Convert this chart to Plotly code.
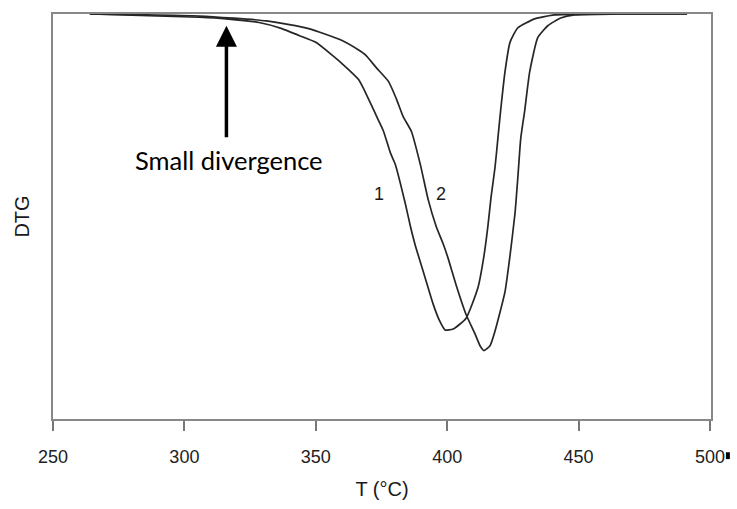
import plotly.graph_objects as go

# Curve 1 (temperature in °C, DTG in arbitrary units, 0 = baseline)
t1 = [264.0, 305.7, 315.9, 328.4, 337.1, 343.6, 350.0, 356.1, 360.6, 366.3, 370.1,
      373.9, 375.8, 378.4, 380.3, 384.1, 386.0, 387.9, 390.2, 394.7, 397.0, 399.2,
      402.3, 407.2, 411.7, 414.0, 415.5, 416.7, 418.2, 419.3, 420.1, 422.0, 423.9,
      426.9, 433.3, 440.9, 457.2, 491.3]
d1 = [0.0, -0.8, -1.2, -2.1, -3.6, -5.3, -7.0, -10.1, -12.6, -16.2, -21.0,
      -26.3, -29.0, -34.3, -37.2, -46.9, -52.4, -57.2, -62.1, -71.7, -75.6, -78.0,
      -77.8, -75.1, -67.6, -59.7, -52.4, -45.2, -37.9, -30.7, -25.4, -14.3, -7.0,
      -3.4, -1.2, -0.2, 0.0, 0.0]

# Curve 2
t2 = [264.0, 305.7, 331.1, 347.3, 359.8, 366.3, 368.9, 373.1, 377.7, 380.7, 383.3,
      386.4, 389.8, 392.8, 395.8, 398.5, 400.4, 403.4, 407.2, 410.6, 412.5, 414.0,
      416.3, 418.2, 422.0, 423.9, 425.8, 426.9, 428.0, 429.5, 431.4, 434.5, 438.3,
      443.2, 448.5, 464.8, 491.3]
d2 = [0.0, -0.5, -1.7, -3.6, -6.5, -8.9, -10.1, -13.3, -16.7, -21.0, -25.4,
      -29.0, -37.2, -45.9, -52.4, -56.8, -60.4, -66.9, -74.2, -79.0, -81.9, -83.1,
      -81.9, -78.3, -68.6, -59.7, -49.3, -40.3, -30.7, -23.9, -14.3, -5.8, -2.9,
      -1.0, -0.2, 0.0, 0.0]

x_ticks = [250, 300, 350, 400, 450, 500]
curve_labels = ["1", "2"]
label_pos = [(374.0, -44.5), (397.8, -44.5)]
arrow_tip = (316.0, -2.9)
annotation_text = "Small divergence"

FONT = "Liberation Sans"

fig = go.Figure()
for t, d in [(t1, d1), (t2, d2)]:
    fig.add_trace(go.Scatter(x=t, y=d, mode="lines",
                             line=dict(color="#262626", width=1.7, shape="spline", smoothing=0.5),
                             showlegend=False, hoverinfo="skip"))

for lab, (lx, ly) in zip(curve_labels, label_pos):
    fig.add_annotation(x=lx, y=ly, text=lab, showarrow=False,
                       font=dict(family=FONT, size=18, color="#1a1a1a"))

fig.add_annotation(x=arrow_tip[0], y=arrow_tip[1], ax=0, ay=113, text="",
                   showarrow=True, arrowhead=2, arrowsize=1.2, arrowwidth=3.5,
                   arrowcolor="#000")
fig.add_annotation(x=arrow_tip[0] + 0.9, y=-36.0, text=annotation_text, showarrow=False,
                   font=dict(family="Lato", size=25.5, color="#000"))

# small mark next to the 500 label
fig.add_shape(type="rect", xref="paper", yref="paper",
              x0=(731 - 53) / 663, x1=(735 - 53) / 663,
              y0=(427 - 468) / 414, y1=(427 - 461) / 414,
              fillcolor="#000", line=dict(width=0))

fig.update_layout(
    width=737, height=509,
    margin=dict(l=53, r=21, t=13, b=82),
    paper_bgcolor="white", plot_bgcolor="white",
    xaxis=dict(range=[250, 500.4], tickvals=x_ticks, ticks="outside", ticklen=10,
               tickcolor="#777", tickwidth=1.5, showgrid=False, zeroline=False,
               showline=True, linecolor="#888", linewidth=2, mirror=True,
               ticklabelstandoff=10,
               tickfont=dict(family=FONT, size=18, color="#222"),
               title=dict(text="T (°C)", font=dict(family=FONT, size=20, color="#1a1a1a"),
                          standoff=16)),
    yaxis=dict(range=[-100, 0], showticklabels=False, ticks="", showgrid=False,
               zeroline=False, showline=True, linecolor="#888", linewidth=2, mirror=True,
               title=dict(text="DTG", font=dict(family=FONT, size=20, color="#1a1a1a"),
                          standoff=16)),
)

fig.write_html("out.html")
